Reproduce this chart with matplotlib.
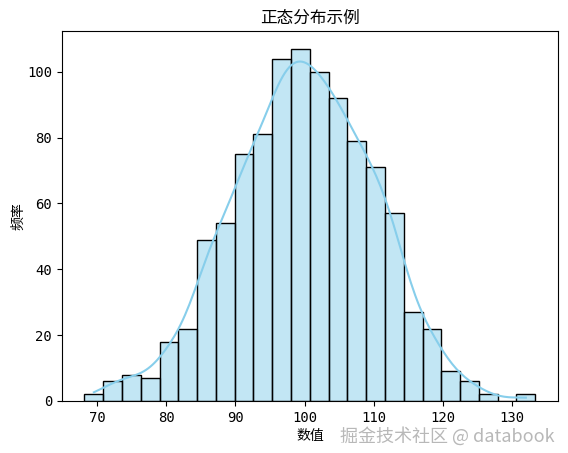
import numpy as np
import matplotlib.pyplot as plt
import seaborn as sns

# histogram (1000 samples, 24 bins)
bin_left = 68.16
bin_width = 2.7175
counts = [2, 6, 8, 7, 18, 22, 49, 54, 75, 81, 104, 107,
          100, 92, 79, 71, 57, 27, 22, 9, 6, 2, 0, 2]

n_bins = len(counts)
edges = bin_left + bin_width * np.arange(n_bins + 1)
centers = (edges[:-1] + edges[1:]) / 2
# one value per counted sample, placed at its bin centre
values = np.repeat(centers, counts)

plt.rcParams['font.family'] = ['DejaVu Sans Mono', 'Noto Sans CJK SC']
cjk = ['Noto Sans CJK SC', 'DejaVu Sans']

fig, ax = plt.subplots(figsize=(5.68, 4.53), dpi=100)
fig.subplots_adjust(left=0.109, right=0.982, top=0.931, bottom=0.115)

sns.histplot(x=values, bins=n_bins, binrange=(edges[0], edges[-1]), kde=True,
             kde_kws={'bw_adjust': 0.93},
             color='skyblue', edgecolor='black', ax=ax)

ax.set_title('正态分布示例', family=cjk, fontsize=12)
ax.set_xlabel('数值', family=cjk, labelpad=3)
ax.set_ylabel('频率', family=cjk, labelpad=1)
ax.set_xticks([70, 80, 90, 100, 110, 120, 130])

# watermark
fig.text(0.977, 0.016, '掘金技术社区 @ databook', family=cjk, fontsize=13,
         color='#b8b8b8', ha='right', va='bottom')

plt.savefig('out.png')
